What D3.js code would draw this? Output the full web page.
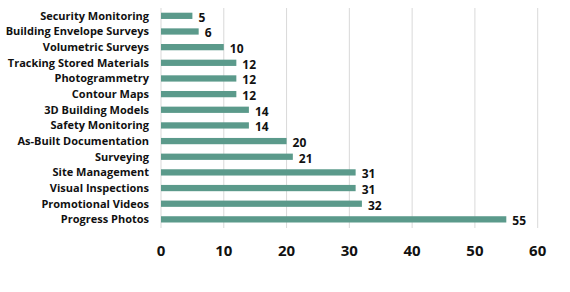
<!DOCTYPE html>
<html>
<head>
<meta charset="utf-8">
<script src="https://cdn.jsdelivr.net/npm/d3@7"></script>
<style>
  body { margin: 0; background: #fff; }
  text { font-family: 'Open Sans', 'Noto Sans', sans-serif; font-weight: bold; fill: #111; }
</style>
</head>
<body>
<script>
// data, top to bottom
var categories = ['Security Monitoring', 'Building Envelope Surveys', 'Volumetric Surveys',
  'Tracking Stored Materials', 'Photogrammetry', 'Contour Maps', '3D Building Models',
  'Safety Monitoring', 'As-Built Documentation', 'Surveying', 'Site Management',
  'Visual Inspections ', 'Promotional Videos', 'Progress Photos']
var values = [5, 6, 10, 12, 12, 12, 14, 14, 20, 21, 31, 31, 32, 55]
var ticks = [0, 10, 20, 30, 40, 50, 60]

var w = 570
var h = 292

var svg = d3.select('body')
  .append('svg')
  .attr('width', w)
  .attr('height', h)

var xScale = d3.scaleLinear()
  .domain([0, 60])
  .range([161, 537.7])

var yScale = d3.scaleBand()
  .domain(categories)
  .range([8, 227.2])
  .paddingInner(0.6)
  .paddingOuter(0.3)

// gridlines
svg.selectAll('line.grid')
  .data(ticks)
  .enter()
  .append('line')
  .attr('class', 'grid')
  .attr('x1', function (d) { return xScale(d) })
  .attr('x2', function (d) { return xScale(d) })
  .attr('y1', 8)
  .attr('y2', 228)
  .attr('stroke', '#d9d9d9')
  .attr('stroke-width', 1)

// bars
svg.selectAll('rect')
  .data(values)
  .enter()
  .append('rect')
  .attr('x', xScale(0))
  .attr('y', function (d, i) { return yScale(categories[i]) })
  .attr('width', function (d) { return xScale(d) - xScale(0) })
  .attr('height', yScale.bandwidth())
  .attr('fill', '#5b9a8b')

// value labels
svg.selectAll('text.val')
  .data(values)
  .enter()
  .append('text')
  .attr('class', 'val')
  .text(function (d) { return d })
  .attr('x', function (d) { return xScale(d) + 6 })
  .attr('y', function (d, i) { return yScale(categories[i]) + yScale.bandwidth() / 2 + 6 })
  .attr('font-size', '12px')

// category labels
svg.selectAll('text.cat')
  .data(categories)
  .enter()
  .append('text')
  .attr('class', 'cat')
  .text(function (d) { return d })
  .attr('x', 149)
  .attr('y', function (d) { return yScale(d) + yScale.bandwidth() / 2 + 4 })
  .attr('text-anchor', 'end')
  .attr('font-size', '11px')

// x axis tick labels
svg.selectAll('text.tick')
  .data(ticks)
  .enter()
  .append('text')
  .attr('class', 'tick')
  .text(function (d) { return d })
  .attr('x', function (d) { return xScale(d) })
  .attr('y', 256)
  .attr('text-anchor', 'middle')
  .attr('font-size', '15px')
</script>
</body>
</html>
